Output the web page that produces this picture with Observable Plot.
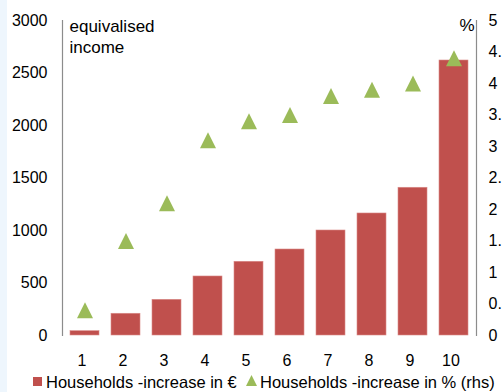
<!DOCTYPE html>
<html>
<head>
<meta charset="utf-8">
<script src="https://cdn.jsdelivr.net/npm/d3@7"></script>
<script src="https://cdn.jsdelivr.net/npm/@observablehq/plot@0.6"></script>
<style>
  html, body { margin: 0; padding: 0; overflow: hidden; width: 502px; height: 392px; }
  body { background: linear-gradient(to right, #eef6fd 0, #eef6fd 7px, #ffffff 7px); font-family: "Liberation Sans", Arial, sans-serif; }
  #chart svg { display: block; background: transparent; }
  #legend { height: 20px; line-height: 20px; font-size: 16.5px; color: #000; white-space: nowrap; position: relative; }
  .sw { position: absolute; top: 5px; }
  .lbl { position: absolute; top: 0; }
</style>
</head>
<body>
<div id="chart"></div>
<div id="legend">
  <span class="sw" style="left:33px;width:9px;height:9px;background:#C0504D;"></span>
  <span class="lbl" style="left:46px;">Households -increase in €</span>
  <svg class="sw" style="left:246px;top:3px;" width="11" height="11"><polygon points="5.5,0 11,11 0,11" fill="#9BBB59"/></svg>
  <span class="lbl" style="left:260px;">Households -increase in % (rhs)</span>
</div>
<script>
// Data
const deciles = ["1", "2", "3", "4", "5", "6", "7", "8", "9", "10"];
const increaseEuro = [41, 207, 340, 562, 702, 819, 1000, 1162, 1407, 2619];
const increasePct = [0.4, 1.5, 2.1, 3.1, 3.4, 3.5, 3.8, 3.9, 4.0, 4.4];
const leftTicks = [0, 500, 1000, 1500, 2000, 2500, 3000];
const rightTicks = [0, 0.5, 1, 1.5, 2, 2.5, 3, 3.5, 4, 4.5, 5];

const leftMax = 3000, rightMax = 5;
const k = leftMax / rightMax;
const rows = deciles.map((d, i) => ({decile: d, euro: increaseEuro[i], pct: increasePct[i]}));

const triangle = {
  draw(ctx) {
    const h = 16, w = 16;
    ctx.moveTo(0, -h / 2);
    ctx.lineTo(w / 2, h / 2);
    ctx.lineTo(-w / 2, h / 2);
    ctx.closePath();
  }
};

const chart = Plot.plot({
  width: 502,
  height: 372,
  marginLeft: 62,
  marginRight: 26,
  marginTop: 20,
  marginBottom: 37,
  style: {fontFamily: "'Liberation Sans', Arial, sans-serif", fontSize: "16px", color: "#000", background: "transparent"},
  x: {domain: deciles, paddingInner: 0.3, paddingOuter: 0.15},
  y: {domain: [0, leftMax]},
  marks: [
    Plot.barY(rows, {x: "decile", y: "euro", fill: "#C0504D", stroke: "#d98a88", strokeWidth: 0.6}),
    Plot.dot(rows, {x: "decile", y: d => d.pct * k, symbol: triangle, fill: "#9BBB59", r: 5}),
    Plot.axisY({ticks: leftTicks, tickFormat: v => String(v), tickSize: 0, tickPadding: 15, label: null, fontSize: 16}),
    Plot.axisY({anchor: "right", ticks: rightTicks.map(v => v * k), tickFormat: v => String(v / k), tickSize: 0, tickPadding: 12, textAnchor: "start", label: null, fontSize: 16}),
    Plot.axisX({tickSize: 0, tickPadding: 19, label: null, fontSize: 16, dx: -3}),
    Plot.frame({anchor: "left", stroke: "#8c8c8c", strokeWidth: 1.2}),
    Plot.frame({anchor: "right", stroke: "#8c8c8c", strokeWidth: 1.2}),
    Plot.text(["equivalised\nincome"], {frameAnchor: "top-left", textAnchor: "start", lineAnchor: "top", dx: 7, dy: -3, fontSize: 17, lineHeight: 1.23}),
    Plot.text(["%"], {frameAnchor: "top-right", textAnchor: "end", lineAnchor: "top", dx: -2, dy: -2, fontSize: 17})
  ]
});
document.getElementById("chart").appendChild(chart);
</script>
</body>
</html>
